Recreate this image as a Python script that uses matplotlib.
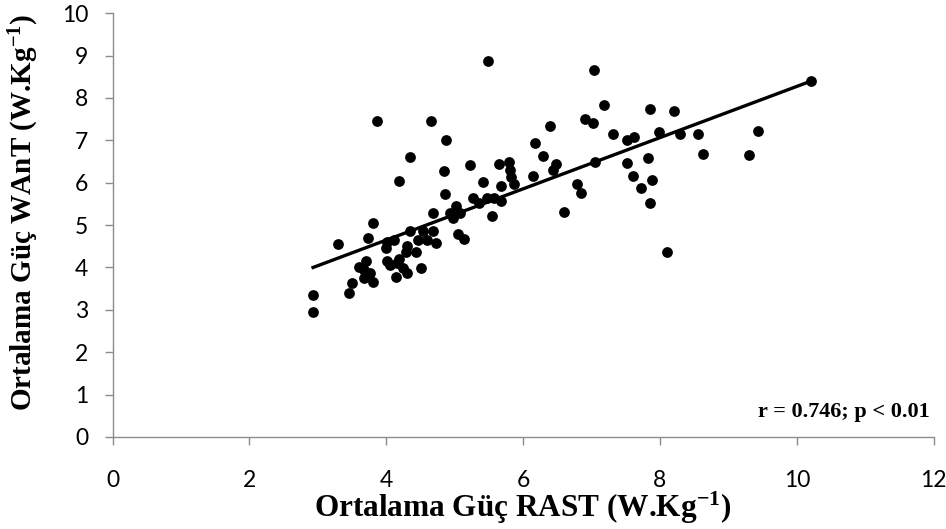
import matplotlib
matplotlib.use("Agg")
import matplotlib.pyplot as plt
import numpy as np

# RAST mean power (x) and WAnT mean power (y), W/kg
rast = [2.93, 2.93, 3.30, 3.45, 3.50, 3.60, 3.67, 3.71, 3.67, 3.76,
        3.81, 3.74, 3.81, 3.87, 3.99, 4.01, 4.11, 4.01, 4.06, 4.19,
        4.15, 4.24, 4.31, 4.14, 4.18, 4.31, 4.29, 4.44, 4.34, 4.34,
        4.51, 4.47, 4.59, 4.54, 4.69, 4.73, 4.66, 4.69, 4.86, 4.85,
        4.88, 5.02, 4.93, 4.98, 5.08, 5.05, 5.14, 5.22, 5.27, 5.35,
        5.42, 5.47, 5.57, 5.48, 5.54, 5.68, 5.68, 5.65, 5.80, 5.81,
        5.82, 5.86, 6.15, 6.17, 6.29, 6.39, 6.48, 6.44, 6.60, 6.78,
        6.84, 6.90, 7.02, 7.03, 7.05, 7.18, 7.32, 7.52, 7.62, 7.52,
        7.60, 7.72, 7.83, 7.85, 7.89, 7.85, 7.99, 8.10, 8.20, 8.29,
        8.55, 8.63, 9.30, 9.43, 10.21]
want = [3.35, 2.95, 4.55, 3.40, 3.64, 4.02, 3.94, 4.16, 3.74, 3.88,
        3.66, 4.69, 5.04, 7.45, 4.45, 4.61, 4.65, 4.16, 4.06, 4.21,
        4.10, 3.98, 3.86, 3.77, 6.05, 4.50, 4.37, 4.37, 4.87, 6.60,
        3.98, 4.65, 4.65, 4.85, 4.85, 4.58, 7.45, 5.29, 5.74, 6.28,
        7.00, 5.45, 5.28, 5.16, 5.28, 4.78, 4.67, 6.41, 5.63, 5.51,
        6.02, 5.63, 5.65, 8.87, 5.21, 5.56, 5.93, 6.44, 6.49, 6.30,
        6.14, 5.97, 6.16, 6.94, 6.63, 7.33, 6.45, 6.31, 5.31, 5.98,
        5.75, 7.50, 7.40, 8.67, 6.49, 7.83, 7.15, 7.00, 7.07, 6.46,
        6.16, 5.87, 6.58, 7.75, 6.06, 5.51, 7.19, 4.36, 7.70, 7.14,
        7.14, 6.67, 6.65, 7.22, 8.40]

trend_x = [2.93, 10.21]
trend_y = [4.00, 8.40]

x_ticks = [0, 2, 4, 6, 8, 10, 12]
y_ticks = [0, 1, 2, 3, 4, 5, 6, 7, 8, 9, 10]

x_label = r"Ortalama Güç RAST (W.Kg$^{-1}$)"
y_label = r"Ortalama Güç WAnT (W.Kg$^{-1}$)"
stat_text = "r = 0.746; p < 0.01"

plt.rcParams["font.family"] = ["Lato", "DejaVu Sans"]
plt.rcParams["mathtext.fontset"] = "custom"
plt.rcParams["mathtext.rm"] = "Liberation Serif:bold"
plt.rcParams["mathtext.it"] = "Liberation Serif:bold"
plt.rcParams["mathtext.bf"] = "Liberation Serif:bold"
plt.rcParams["mathtext.default"] = "rm"

fig = plt.figure(figsize=(9.46, 5.29), dpi=100)
ax = fig.add_axes([0.119, 0.174, 0.868, 0.801])

ax.scatter(rast, want, s=60, color="black", zorder=3, linewidths=0)
ax.plot(trend_x, trend_y, color="black", lw=2.4, zorder=2)

ax.set_xlim(0, 12)
ax.set_ylim(0, 10)
ax.set_xticks(x_ticks)
ax.set_yticks(y_ticks)

for side in ("top", "right"):
    ax.spines[side].set_visible(False)
for side in ("left", "bottom"):
    ax.spines[side].set_color("#8c8c8c")
    ax.spines[side].set_linewidth(1.0)

ax.tick_params(axis="both", colors="#8c8c8c", length=5.5, width=1.0,
               direction="out", labelcolor="black", labelsize=16.5)
ax.tick_params(axis="x", pad=18)
ax.tick_params(axis="y", pad=12)

ax.set_xlabel(x_label, fontfamily="Liberation Serif", fontweight="bold",
              fontsize=22.5)
ax.xaxis.set_label_coords(0.5, -0.125)
ax.set_ylabel(y_label, fontfamily="Liberation Serif", fontweight="bold",
              fontsize=21)
ax.yaxis.set_label_coords(-0.087, 0.53)

ax.text(0.995, 0.058, stat_text, transform=ax.transAxes, ha="right",
        va="center", fontfamily="Liberation Serif", fontweight="bold",
        fontsize=16)

fig.savefig("out.png", dpi=100)
